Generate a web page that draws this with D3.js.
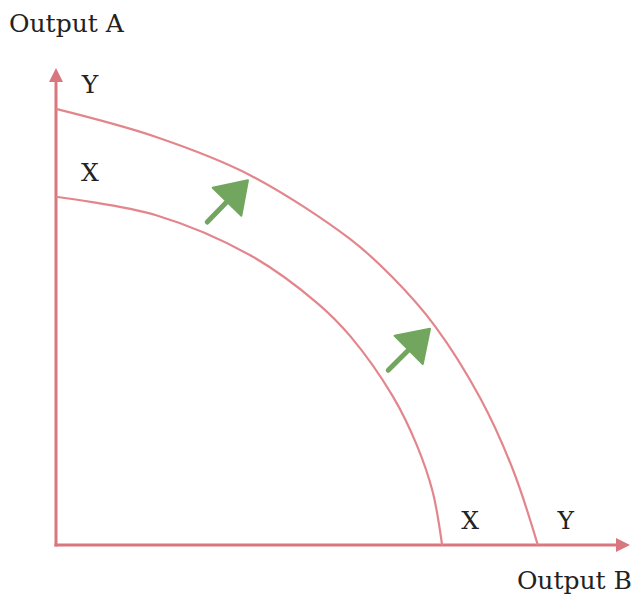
<!DOCTYPE html>
<html>
<head>
<meta charset="utf-8">
<script src="https://cdn.jsdelivr.net/npm/d3@7"></script>
<style>
  html, body { margin: 0; padding: 0; background: #fff; }
  #ppf { width: 633px; height: 597px; }
</style>
</head>
<body>
<div id="ppf"></div>
<script>
// Production possibility frontiers (Output B, Output A)
const curveNames = ["X", "Y"];
const curveX = [
    [0, 75.7], [18.2, 71.7], [35.3, 63.0], [47.5, 52.6], [53.5, 45.4],
    [61.3, 32.2], [65.6, 21.7], [68.5, 11.5], [70.2, 0]
];
const curveY = [
    [0, 94.8], [18.2, 88.7], [35.3, 80.4], [53.5, 66.5], [61.1, 58.3],
    [68.9, 47.6], [77.1, 32.0], [83.1, 16.3], [87.6, 0]
];

// shift arrows: [start, tip]
const shiftArrows = [
    [[27.5, 70.2], [34.9, 79.3]],
    [[60.4, 38.0], [68.0, 47.0]]
];

const axisLabels = ["Output A", "Output B"];

function drawChart() {
    const width = 633, height = 597;

    d3.select("#ppf").select("svg").remove();

    const svg = d3.select("#ppf")
        .append("svg")
        .attr("width", width)
        .attr("height", height)
        .style("font-family", "'DejaVu Serif', serif");

    const x = d3.scaleLinear().domain([0, 100]).range([56, 606]);
    const y = d3.scaleLinear().domain([0, 100]).range([545, 85]);

    const axisColor = "#d9777e";
    const curveColor = "#e3868c";
    const green = "#72a65e";

    // axes
    const x0 = x(0), y0 = y(0);
    const yTop = y.range()[1] - 17;
    const xEnd = x.range()[1] + 24;

    svg.append("line")
        .attr("x1", x0).attr("y1", y0 + 1.5)
        .attr("x2", x0).attr("y2", yTop + 10)
        .attr("stroke", axisColor)
        .attr("stroke-width", 3);

    svg.append("line")
        .attr("x1", x0 - 1.5).attr("y1", y0)
        .attr("x2", xEnd - 10).attr("y2", y0)
        .attr("stroke", axisColor)
        .attr("stroke-width", 3);

    svg.append("path")
        .attr("d", `M${x0},${yTop} L${x0 - 7},${yTop + 14} L${x0 + 7},${yTop + 14} Z`)
        .attr("fill", axisColor);

    svg.append("path")
        .attr("d", `M${xEnd},${y0} L${xEnd - 14},${y0 - 7} L${xEnd - 14},${y0 + 7} Z`)
        .attr("fill", axisColor);

    // curves
    const line = d3.line()
        .x(d => x(d[0]))
        .y(d => y(d[1]))
        .curve(d3.curveCatmullRom.alpha(0.5));

    [curveX, curveY].forEach(c => {
        svg.append("path")
            .datum(c)
            .attr("d", line)
            .attr("fill", "none")
            .attr("stroke", curveColor)
            .attr("stroke-width", 2.2);
    });

    // green shift arrows
    shiftArrows.forEach(a => {
        const sx = x(a[0][0]), sy = y(a[0][1]);
        const tx = x(a[1][0]), ty = y(a[1][1]);
        const dx = tx - sx, dy = ty - sy;
        const len = Math.hypot(dx, dy);
        const ux = dx / len, uy = dy / len;
        const headLen = 30, headHalf = 20;
        const bx = tx - ux * headLen, by = ty - uy * headLen;

        svg.append("line")
            .attr("x1", sx).attr("y1", sy)
            .attr("x2", bx + ux * 4).attr("y2", by + uy * 4)
            .attr("stroke", green)
            .attr("stroke-width", 5)
            .attr("stroke-linecap", "round");

        svg.append("path")
            .attr("d", `M${tx},${ty} L${bx - uy * headHalf},${by + ux * headHalf} L${bx + uy * headHalf},${by - ux * headHalf} Z`)
            .attr("fill", green)
            .attr("stroke", green)
            .attr("stroke-width", 2)
            .attr("stroke-linejoin", "round");
    });

    // labels
    const textColor = "#222";

    svg.append("text")
        .attr("x", 9).attr("y", 32)
        .style("font-size", "25px")
        .style("fill", textColor)
        .text(axisLabels[0]);

    svg.append("text")
        .attr("x", 632).attr("y", 589)
        .attr("text-anchor", "end")
        .style("font-size", "25px")
        .style("fill", textColor)
        .text(axisLabels[1]);

    // curve labels near each intercept
    const curves = [curveX, curveY];
    curveNames.forEach((name, i) => {
        const c = curves[i];
        const top = c[0];
        const end = c[c.length - 1];

        svg.append("text")
            .attr("x", x(top[0]) + 34)
            .attr("y", y(top[1]) - 16)
            .attr("text-anchor", "middle")
            .style("font-size", "25px")
            .style("fill", textColor)
            .text(name);

        svg.append("text")
            .attr("x", x(end[0]) + 28)
            .attr("y", y(end[1]) - 16)
            .attr("text-anchor", "middle")
            .style("font-size", "25px")
            .style("fill", textColor)
            .text(name);
    });
}

drawChart();
</script>
</body>
</html>
